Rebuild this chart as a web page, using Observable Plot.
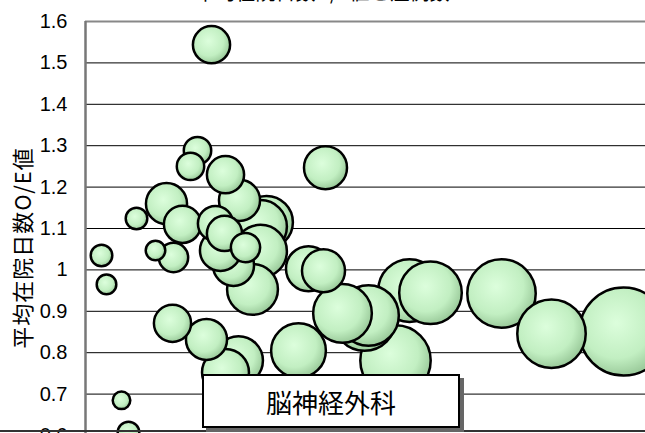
<!DOCTYPE html>
<html>
<head>
<meta charset="utf-8">
<script src="https://cdn.jsdelivr.net/npm/d3@7"></script>
<script src="https://cdn.jsdelivr.net/npm/@observablehq/plot@0.6"></script>
<style>
  html, body { margin: 0; padding: 0; background: #fff; }
  #wrap { position: relative; width: 645px; height: 433px; overflow: hidden; font-family: "Liberation Sans", Arial, sans-serif; }
  #title { position: absolute; left: 0; width: 645px; top: -23px; text-align: center; font: 20px "Noto Sans CJK JP", sans-serif; color: #000; white-space: nowrap; }
  #ylab { position: absolute; left: 21px; top: 248px; transform: translate(-50%, -50%) rotate(-90deg); font: 22px "Noto Sans CJK JP", sans-serif; letter-spacing: 1px; white-space: nowrap; color: #000; }
  #frameBottom { position: absolute; left: 0; top: 430px; width: 645px; height: 2px; background: #333; }
  #label { position: absolute; left: 202px; top: 374px; width: 254px; height: 50px; border: 2px solid #000; background: #fff; box-shadow: 4px 4px 0 #666; display: flex; align-items: center; justify-content: center; font: 26px "Noto Sans CJK JP", sans-serif; color: #000; }
  #chart { position: absolute; left: 0; top: 0; }
</style>
</head>
<body>
<div id="wrap">
  <div id="chart"></div>
  <div id="title"></div>
  <div id="ylab"></div>
  <div id="frameBottom"></div>
  <div id="label"></div>
</div>
<script>
// ---- data ----
const titleText = "平均在院日数O/E値と症例数";
const yTitle = "平均在院日数O/E値";
const deptLabel = "脳神経外科";
const yTicks = [0.6, 0.7, 0.8, 0.9, 1.0, 1.1, 1.2, 1.3, 1.4, 1.5, 1.6];
// x position (arbitrary case-count units), O/E value, bubble size
const xs = [1.6, 2.1, 3.6, 4.3, 5.1, 7.0, 8.8, 8.1, 9.7, 11.2, 10.5, 12.6, 14.0, 15.4, 13.0, 13.9, 16.0, 18.1, 17.5, 14.8, 16.7, 13.5, 17.5, 24.0, 22.3, 23.8, 8.7, 12.1, 15.3, 14.0, 21.3, 25.7, 27.9, 28.3, 31.0, 32.4, 34.5, 41.6, 46.6, 53.8];
const oe = [1.035, 0.965, 0.685, 0.607, 1.124, 1.047, 1.030, 1.160, 1.110, 1.288, 1.250, 1.544, 1.230, 1.168, 1.112, 1.088, 1.054, 1.115, 1.105, 1.011, 0.953, 1.047, 1.045, 1.247, 1.003, 0.998, 0.871, 0.832, 0.781, 0.752, 0.805, 0.895, 0.880, 0.890, 0.781, 0.950, 0.945, 0.943, 0.846, 0.851];
const sizes = [120, 99, 80, 120, 120, 99, 222, 436, 357, 194, 194, 357, 357, 436, 320, 320, 222, 720, 720, 436, 668, 436, 720, 478, 523, 478, 357, 436, 617, 569, 774, 889, 1011, 949, 1280, 1011, 1011, 1210, 1210, 2000];

const data = xs.map((x, i) => ({x, y: oe[i], s: sizes[i]}));

document.getElementById("title").textContent = titleText;
document.getElementById("ylab").textContent = yTitle;
document.getElementById("label").textContent = deptLabel;

const fmt = d => String(+d.toFixed(1));

const svg = Plot.plot({
  width: 645,
  height: 433,
  marginLeft: 85,
  marginRight: 0,
  marginTop: 21,
  marginBottom: 0,
  style: {fontFamily: "'Liberation Sans', Arial, sans-serif", background: "transparent"},
  x: {domain: [0, 56], range: [85, 645], axis: null},
  y: {domain: [0.6, 1.6], range: [435, 21], axis: null},
  r: {type: "sqrt", domain: [0, 2000], range: [0, 44]},
  marks: [
    Plot.ruleY(yTicks, {stroke: "#000", strokeWidth: 1}),
    Plot.ruleY([1.6], {stroke: "#888", strokeWidth: 2}),
    Plot.ruleX([0], {stroke: "#777", strokeWidth: 2.5}),
    Plot.axisY(yTicks, {tickSize: 0, tickPadding: 18, tickFormat: fmt, fontSize: 20, label: null, fill: "#000"}),
    Plot.dot(data, {x: "x", y: "y", r: "s", fill: "url(#bubbleGrad)", stroke: "#000", strokeWidth: 2.5, clip: true})
  ]
});

const defs = d3.select(svg).insert("defs", ":first-child");
const g = defs.append("radialGradient").attr("id", "bubbleGrad")
  .attr("cx", "0.42").attr("cy", "0.4").attr("r", "0.62");
g.append("stop").attr("offset", "0%").attr("stop-color", "#dcfedc");
g.append("stop").attr("offset", "65%").attr("stop-color", "#c2efc2");
g.append("stop").attr("offset", "100%").attr("stop-color", "#98c898");

document.getElementById("chart").appendChild(svg);
</script>
</body>
</html>
